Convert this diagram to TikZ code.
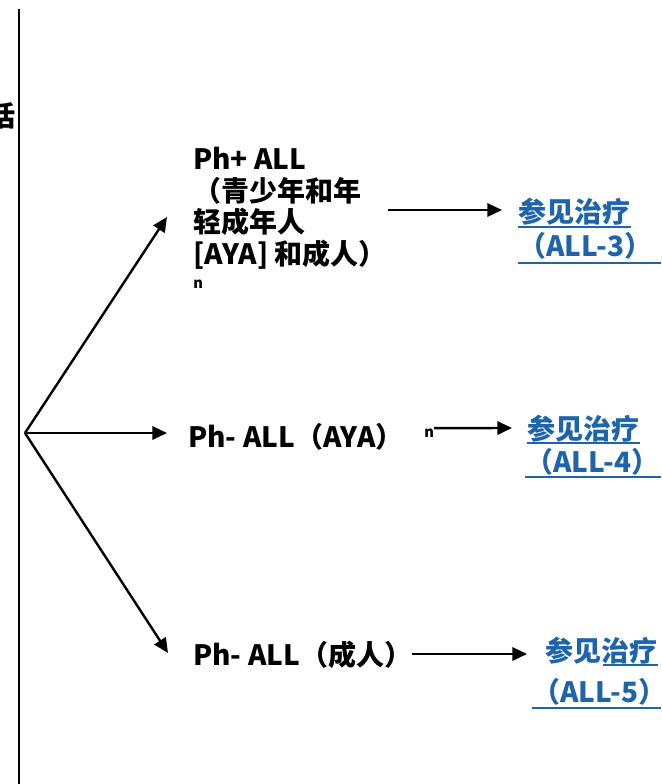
\documentclass[tikz,border=0pt]{standalone}
\usepackage{fontspec}
\setmainfont{Noto Sans CJK SC}
\usetikzlibrary{arrows.meta}
\definecolor{linkblue}{RGB}{30,100,170}

\begin{document}
\begin{tikzpicture}[x=0.75pt,y=-0.75pt,
	txt/.style={font=\bfseries\fontsize{21}{23.6}\selectfont,inner sep=0pt},
	link/.style={txt,text=linkblue},
	hoch/.style={font=\bfseries\fontsize{11}{12}\selectfont,inner sep=0pt},
	pfeil/.style={line width=1.8pt,-{Triangle[length=11pt,width=10pt]}},
	unter/.style={linkblue,line width=1.2pt}]
	\useasboundingbox (0,0) rectangle (661,784);
	% Linie links
	\draw[line width=1.8pt] (19,9) -- (19,784);
	\node[txt,anchor=base west] (kuo) at (-13,127) {括};
	% Verzweigung
	\coordinate (o) at (25,433);
	\coordinate (e1) at (167,217);
	\coordinate (e2) at (167,433);
	\coordinate (e3) at (168,653);
	\draw[pfeil] (o) -- (e1);
	\draw[pfeil] (o) -- (e2);
	\draw[pfeil] (o) -- (e3);
	% Texte
	\node[txt,anchor=north west,align=left] (phplus) at (193,147)
		{Ph+ ALL\\（青少年和年\\轻成年人\\{}[AYA] 和成人）};
	\node[hoch,anchor=base west] (phplusn) at (193,288) {n};
	\node[txt,anchor=base west] (phaya) at (188,447) {Ph- ALL（AYA）};
	\node[hoch,anchor=base west] (phayan) at (424,437) {n};
	\node[txt,anchor=base west] (phadult) at (193,665) {Ph- ALL（成人）};
	% Verweise
	\node[link,anchor=base west] (l3a) at (518,223) {参见治疗};
	\node[link,anchor=base west] (l3b) at (518,256) {（ALL-3）};
	\node[link,anchor=base west] (l4a) at (527,439) {参见治疗};
	\node[link,anchor=base west] (l4b) at (525,472) {（ALL-4）};
	\node[link,anchor=base west] (l5a) at (545,661) {参见治疗};
	\node[link,anchor=base west] (l5b) at (532,702) {（ALL-5）};
	\draw[unter] (l3a.west |- 0,227) -- (l3a.east |- 0,227);
	\draw[unter] (l3b.west |- 0,263) -- (661,263);
	\draw[unter] (l4a.west |- 0,443) -- (l4a.east |- 0,443);
	\draw[unter] (l4b.west |- 0,477) -- (661,477);
	\draw[unter] (603,665) -- (l5a.east |- 0,665);
	\draw[unter] (l5b.west |- 0,708) -- (661,708);
	% Pfeile rechts
	\coordinate (z3) at (502,210);
	\coordinate (z4) at (512,428);
	\coordinate (z5) at (527,654);
	\draw[pfeil] (388,210) -- (z3);
	\draw[pfeil] (phayan.north east) -- (z4);
	\draw[pfeil] (phadult.east |- z5) -- (z5);
\end{tikzpicture}
\end{document}
